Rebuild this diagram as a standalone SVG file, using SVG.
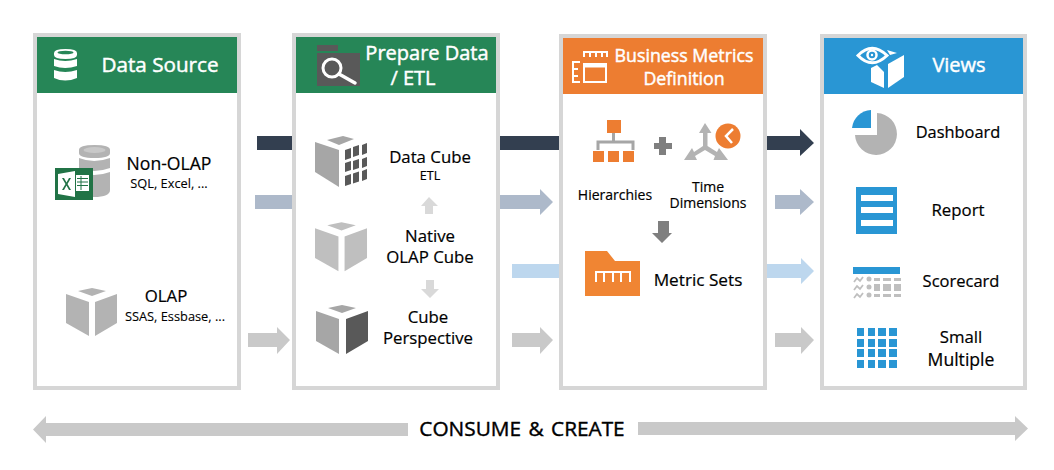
<svg xmlns="http://www.w3.org/2000/svg" width="1054" height="470" viewBox="0 0 1054 470">
<defs>
<style>
text{font-family:"Open Sans","Noto Sans","Liberation Sans",sans-serif;fill:#000;text-anchor:middle;stroke:#000;stroke-width:.2}
.h{fill:#fff;stroke:#fff;stroke-width:.45;font-size:20px}
.l{font-size:16.800px}
.m{font-size:14px}
.s{font-size:12.800px;stroke-width:.1}
.panel{fill:#fff;stroke:#d6d6d6;stroke-width:4}
.dk{fill:#333f50}.sl{fill:#adb9ca}.lb{fill:#bdd7ee}.gy{fill:#c9c9c9}
</style>
<g id="cube"><path d="M0 6 L23 14 V48 L0 35Z"/><path d="M29 14 L51 6 V35 L29 48Z"/><path d="M12 3 L26 0 L40 3 L26 8Z"/></g>
</defs>
<rect width="1054" height="470" fill="#fff"/>
<g id="connectors">
<rect class="dk" x="257" y="136" width="36" height="14"/>
<rect class="dk" x="499" y="136" width="61" height="14"/>
<path class="dk" d="M766 136H800V129L814 143L800 156V150H766Z"/>
<rect class="sl" x="255" y="195" width="38" height="14"/>
<path class="sl" d="M499 195H540V189L553 202L540 215V209H499Z"/>
<path class="sl" d="M775 195H800V189L814 202L800 215V209H775Z"/>
<rect class="lb" x="512" y="264" width="48" height="14"/>
<path class="lb" d="M766 264H801V258L814 271L801 284V278H766Z"/>
<path class="gy" d="M248 333H277V327L290 340L277 354V347H248Z"/>
<path class="gy" d="M512 333H540V327L553 340L540 354V347H512Z"/>
<path class="gy" d="M775 333H801V327L814 340L801 354V347H775Z"/>
</g>
<g id="data-source">
<rect class="panel" x="35" y="35" width="204" height="353"/>
<rect x="37" y="37" width="200" height="56" fill="#268657"/>
<g fill="#fff"><path d="M54 53Q54 49 65.500 49T77 53V55Q77 59 65.500 59T54 55Z"/><path d="M54 59Q65 63 77 59V66Q65 70 54 66Z"/><path d="M54 70Q65 74 77 70V78Q65 83 54 78Z"/></g>
<ellipse cx="65.500" cy="52.500" rx="8" ry="1.800" fill="#268657"/>
<text class="h" x="160" y="72" style="font-size:20.700px">Data Source</text>
<g fill="#b3b3b3"><path d="M79 150Q79 145 94.500 145T110 150V153Q110 158 94.500 158T79 153Z"/><path d="M79 158Q94 164 110 158V168Q94 174 79 168Z"/><path d="M79 172Q94 178 110 172V190Q110 197 94 197H79Z"/></g>
<ellipse cx="94.500" cy="150" rx="11" ry="3" fill="#c8c8c8"/>
<rect x="55" y="168" width="38" height="32" fill="#217346"/>
<path d="M58 174L75 171V197L58 194Z" fill="#fff"/><path d="M76 175H89V191H76Z" fill="#fff"/>
<path d="M77 178.500H88M77 182H88M77 185.500H88M81 176V190" stroke="#217346" stroke-width="1"/>
<path d="M64 178L66.500 182.500L69 178H71L67.500 184L71 190H69L66.500 185.500L64 190H62L65.500 184L62 178Z" fill="#217346"/>
<text class="l" x="169" y="170" style="font-size:17.600px">Non-OLAP</text>
<text class="s" x="169" y="188">SQL, Excel, ...</text>
<use href="#cube" x="66" y="288" fill="#b3b3b3"/>
<text class="l" x="166" y="302">OLAP</text>
<text class="s" x="175" y="321">SSAS, Essbase, ...</text>
</g>
<g id="prepare-data">
<rect class="panel" x="294" y="35" width="204" height="353"/>
<rect x="296" y="37" width="200" height="56" fill="#268657"/>
<path d="M317 45H338V51H317Z" fill="#595959"/><path d="M317 53H360V86H317Z" fill="#595959"/>
<circle cx="332" cy="68" r="9" fill="none" stroke="#fff" stroke-width="3"/><path d="M339 74L355 83" stroke="#fff" stroke-width="3.500" stroke-linecap="round"/>
<text class="h" x="427" y="60">Prepare Data</text>
<text class="h" x="413" y="85">/ ETL</text>
<g fill="#a6a6a6"><path d="M315 142L339 150V187L315 172Z"/><path d="M327 140L343 136L354 139L339 145Z"/></g>
<g fill="#595959"><path d="M345 150l6-2v10l-6 2zM353 147l6-2v10l-6 2zM362 145l5-2v10l-5 2zM345 163l6-2v9l-6 2zM353 161l6-2v9l-6 2zM362 159l5-2v9l-5 2zM345 176l6-2v10l-6 2zM353 173.500l6-2v10l-6 2zM362 171l5-2v10l-5 2z"/></g>
<text class="l" x="430" y="163">Data Cube</text>
<text class="s" x="430" y="180" style="font-size:12.500px;stroke-width:.2">ETL</text>
<path d="M429 197L438 206H433V214H425V206H421Z" fill="#d9d9d9"/>
<use href="#cube" x="315" y="222" fill="#bfbfbf" transform="translate(-6.300 -4.200) scale(1.020)"/>
<text class="l" x="430" y="242">Native</text>
<text class="l" x="430" y="263">OLAP Cube</text>
<path d="M426 280H434V289H439L430 298L421 289H426Z" fill="#d9d9d9"/>
<g id="persp"><path d="M316 311L339 319V354L316 341Z" fill="#a6a6a6"/><path d="M346 319L368 311V341L346 354Z" fill="#595959"/><path d="M328 308L342 305L356 308L342 313Z" fill="#a6a6a6"/></g>
<text class="l" x="428" y="323">Cube</text>
<text class="l" x="428" y="344">Perspective</text>
</g>
<g id="business-metrics">
<rect class="panel" x="561" y="36" width="204" height="352"/>
<rect x="563" y="38" width="200" height="56" fill="#ed7d31"/>
<g fill="none" stroke="#fff" stroke-width="2"><rect x="584" y="64" width="22" height="18"/><path d="M583 52H608M584 52V57M590 52V57M596 52V57M602 52V57M607 52V57M573 61V83M573 62H580M573 69H578M573 76H578M573 82H580"/><path d="M584 66H606" stroke-width="3"/></g>
<text class="h" x="684" y="62" style="font-size:17.800px">Business Metrics</text>
<text class="h" x="684" y="85" style="font-size:17.800px">Definition</text>
<g fill="#ed7d31"><rect x="607" y="120" width="14" height="13"/><rect x="593" y="151" width="11" height="11"/><rect x="608" y="151" width="11" height="11"/><rect x="623" y="151" width="11" height="11"/></g>
<path d="M613.500 133V141M598 150V142H633V150" fill="none" stroke="#a6a6a6" stroke-width="3"/>
<path d="M659 137H666V143H672V149H666V155H659V149H654V143H659Z" fill="#7f7f7f"/>
<path d="M705 123L711.500 133H707.500V146L717 152L719 148L728 160H713.500L715 156L705 150L695 156L697 160H684L692 148L694 152L703 146V133H699Z" fill="#b3b3b3"/>
<circle cx="728" cy="136" r="12.500" fill="#ed7d31"/><path d="M733 129L726 136L732 143" fill="none" stroke="#fff" stroke-width="2.500"/>
<text class="m" x="615" y="200">Hierarchies</text>
<text class="m" x="708" y="192">Time<tspan x="708" dy="16">Dimensions</tspan></text>
<path d="M658 221H669V233H672L662 243L652 233H658Z" fill="#7f7f7f"/>
<path d="M585 251H607L615 261H640V296H585Z" fill="#f08533"/>
<path d="M595 272H631M596 272V282M604 272V282M613 272V282M621 272V282M630 272V282" fill="none" stroke="#fff" stroke-width="2"/>
<text class="l" x="698" y="286" style="font-size:17.200px">Metric Sets</text>
</g>
<g id="views">
<rect class="panel" x="822" y="36" width="203" height="352"/>
<rect x="824" y="38" width="199" height="56" fill="#2996d4"/>
<path d="M858 55.500Q872 41 887 55.500Q872 70 858 55.500Z" fill="none" stroke="#fff" stroke-width="3"/><circle cx="872" cy="55" r="4.500" fill="none" stroke="#fff" stroke-width="2.500"/><circle cx="872" cy="55" r="1.200" fill="#fff"/>
<path d="M871 68L877 65L884 72V88L871 82Z" fill="#fff"/><path d="M888 64L904 55V77L888 88Z" fill="#fff"/><path d="M887 50L897 53L890 55Z" fill="#fff"/>
<text class="h" x="959" y="72">Views</text>
<path d="M877 113A21 21 0 1 1 855 135H877Z" fill="#b3b3b3"/>
<path d="M871 110A20 20 0 0 0 852 128H871Z" fill="#2996d4"/>
<text class="l" x="958" y="138" style="font-size:16.400px">Dashboard</text>
<rect x="856" y="187" width="41" height="47" fill="#2996d4"/>
<g fill="#fff"><rect x="861" y="195" width="32" height="6"/><rect x="861" y="207" width="32" height="6"/><rect x="861" y="220" width="32" height="6"/></g>
<text class="l" x="958" y="216">Report</text>
<rect x="853" y="267" width="47" height="7" fill="#2996d4"/>
<g fill="#bfbfbf"><circle cx="869" cy="279" r="2.500"/><circle cx="869" cy="287" r="2.500"/><circle cx="869" cy="295" r="2.500"/><rect x="874" y="278" width="6" height="3"/><rect x="883" y="278" width="8" height="3"/><rect x="894" y="278" width="7" height="3"/><rect x="874" y="284" width="6" height="7"/><rect x="883" y="284" width="8" height="7"/><rect x="894" y="284" width="7" height="7"/><rect x="874" y="294" width="6" height="3"/><rect x="883" y="294" width="8" height="3"/><rect x="894" y="294" width="7" height="3"/></g>
<path d="M854 282l3-4 3 3 3-4M854 290l3-4 3 3 3-4M854 298l3-4 3 3 3-4" fill="none" stroke="#bfbfbf" stroke-width="1.800"/>
<text class="l" x="961" y="287" style="font-size:16.500px">Scorecard</text>
<g fill="#2996d4" id="grid">
<rect x="857" y="328" width="7" height="8"/><rect x="868" y="328" width="7" height="8"/><rect x="878" y="328" width="8" height="8"/><rect x="889" y="328" width="8" height="8"/>
<rect x="857" y="339" width="7" height="8"/><rect x="868" y="339" width="7" height="8"/><rect x="878" y="339" width="8" height="8"/><rect x="889" y="339" width="8" height="8"/>
<rect x="857" y="349" width="7" height="8"/><rect x="868" y="349" width="7" height="8"/><rect x="878" y="349" width="8" height="8"/><rect x="889" y="349" width="8" height="8"/>
<rect x="857" y="360" width="7" height="8"/><rect x="868" y="360" width="7" height="8"/><rect x="878" y="360" width="8" height="8"/><rect x="889" y="360" width="8" height="8"/>
</g>
<text class="l" x="961" y="343">Small</text>
<text class="l" x="961" y="366" style="font-size:17.600px">Multiple</text>
</g>
<g id="consume-create">
<path class="gy" d="M33 429.500L46 416V423H408V436H46V443Z"/>
<path class="gy" d="M638 422H1015V416L1028 428.500L1015 441V435H638Z"/>
<text x="522" y="436" font-size="20.800" style="word-spacing:2px;stroke-width:.4">CONSUME &amp; CREATE</text>
</g>
</svg>
